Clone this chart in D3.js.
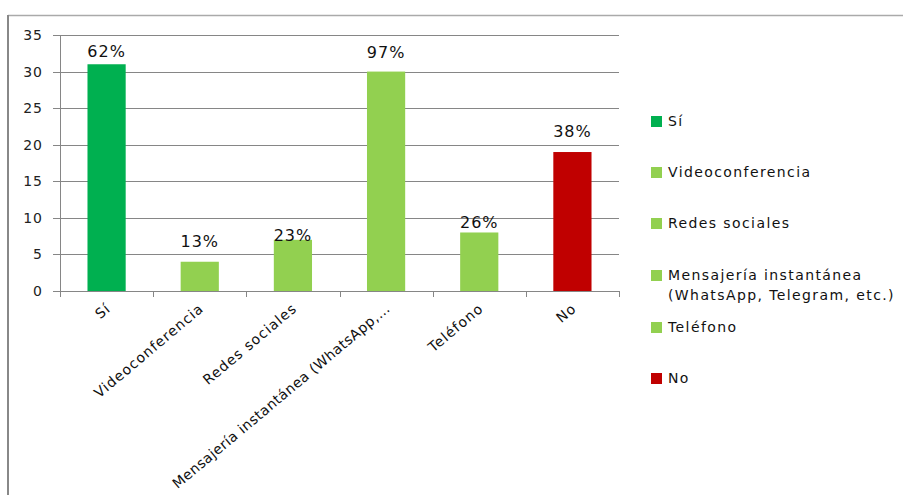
<!DOCTYPE html>
<html>
<head>
<meta charset="UTF-8">
<script src="https://cdn.jsdelivr.net/npm/d3@7"></script>
<style>
body{
    margin:0;
    background:#fff;
    font-family: "DejaVu Sans", Verdana, sans-serif;
}
</style>
</head>
<body>
<script>
// data
var categories = ["Sí", "Videoconferencia", "Redes sociales", "Mensajería instantánea (WhatsApp, Telegram, etc.)", "Teléfono", "No"]
var axisLabels = ["Sí", "Videoconferencia", "Redes sociales", "Mensajería instantánea (WhatsApp,…", "Teléfono", "No"]
var legendLabels = [["Sí"], ["Videoconferencia"], ["Redes sociales"], ["Mensajería instantánea", "(WhatsApp, Telegram, etc.)"], ["Teléfono"], ["No"]]
var counts = [31, 4, 7, 30, 8, 19]
var pctLabels = ["62%", "13%", "23%", "97%", "26%", "38%"]
var colors = ["#00b050", "#92d050", "#92d050", "#92d050", "#92d050", "#c00000"]
var yTicks = [0, 5, 10, 15, 20, 25, 30, 35]

var width = 903, height = 495

var svg = d3.select('body')
    .append('svg')
    .attr('width', width)
    .attr('height', height)

// outer frame
svg.append("line")
    .attr("x1", 8).attr("x2", width).attr("y1", 15.5).attr("y2", 15.5)
    .attr("stroke", "#aaa").attr("stroke-width", 1.5)
svg.append("line")
    .attr("x1", 8).attr("x2", 8).attr("y1", 15).attr("y2", height)
    .attr("stroke", "#888").attr("stroke-width", 2)

var pLeft = 60, pRight = 619, pTop = 35, pBottom = 291

var x = d3.scaleBand()
    .domain(categories)
    .range([pLeft, pRight])
    .paddingInner(0.59)
    .paddingOuter(0.295)

var y = d3.scaleLinear()
    .domain([0, 35])
    .range([pBottom, pTop])

// gridlines
svg.append("g")
    .selectAll("line")
    .data(yTicks)
    .enter()
    .append("line")
    .attr("x1", pLeft - 7)
    .attr("x2", pRight)
    .attr("y1", d => Math.round(y(d)) + 0.5)
    .attr("y2", d => Math.round(y(d)) + 0.5)
    .attr("stroke", "#868686")

// y axis
svg.append("line")
    .attr("x1", pLeft + 0.5).attr("x2", pLeft + 0.5)
    .attr("y1", pTop).attr("y2", pBottom)
    .attr("stroke", "#868686")

svg.append("g")
    .selectAll("text")
    .data(yTicks)
    .enter()
    .append("text")
    .attr("x", 43)
    .attr("y", d => y(d))
    .attr("dy", "0.36em")
    .attr("text-anchor", "end")
    .attr("font-size", 14)
    .attr("letter-spacing", 1)
    .attr("fill", "#222")
    .text(d => d)

// x ticks at category boundaries
var bounds = d3.range(categories.length + 1).map(i => pLeft + i * (pRight - pLeft) / categories.length)
svg.append("g")
    .selectAll("line")
    .data(bounds)
    .enter()
    .append("line")
    .attr("x1", d => Math.round(d) + 0.5)
    .attr("x2", d => Math.round(d) + 0.5)
    .attr("y1", pBottom)
    .attr("y2", pBottom + 6)
    .attr("stroke", "#868686")

// bars
svg.append("g")
    .selectAll("rect")
    .data(categories)
    .enter()
    .append("rect")
    .attr("x", d => x(d))
    .attr("y", (d, i) => y(counts[i]))
    .attr("width", x.bandwidth())
    .attr("height", (d, i) => y(0) - y(counts[i]))
    .attr("fill", (d, i) => colors[i])

// value labels (excel placed them unevenly)
var labelLift = [7, 15, -1, 14, 4, 15]
svg.append("g")
    .selectAll("text")
    .data(categories)
    .enter()
    .append("text")
    .attr("x", d => x(d) + x.bandwidth() / 2)
    .attr("y", (d, i) => y(counts[i]) - labelLift[i])
    .attr("text-anchor", "middle")
    .attr("font-size", 16)
    .attr("letter-spacing", 1)
    .attr("fill", "#111")
    .text((d, i) => pctLabels[i])

// category labels rotated
svg.append("g")
    .selectAll("text")
    .data(categories)
    .enter()
    .append("text")
    .attr("transform", d => "translate(" + (x(d) + x.bandwidth() / 2 + 5) + "," + (pBottom + 19) + ") rotate(-40)")
    .attr("text-anchor", "end")
    .attr("font-size", 14)
    .attr("letter-spacing", (d, i) => i == 3 ? 0.45 : 1.05)
    .attr("fill", "#111")
    .text((d, i) => axisLabels[i])

// legend
var legendY = [121, 172, 223, 275, 327, 378]
var lg = svg.append("g")
legendLabels.forEach(function(lines, i){
    lg.append("rect")
        .attr("x", 651)
        .attr("y", legendY[i] - 5)
        .attr("width", 11)
        .attr("height", 11)
        .attr("fill", colors[i])
    var t = lg.append("text")
        .attr("x", 668)
        .attr("y", legendY[i])
        .attr("font-size", 14)
        .attr("letter-spacing", 1.4)
        .attr("fill", "#111")
    lines.forEach(function(l, j){
        t.append("tspan")
            .attr("x", 668)
            .attr("dy", j == 0 ? "0.36em" : "1.45em")
            .text(l)
    })
})
</script>
</body>
</html>
